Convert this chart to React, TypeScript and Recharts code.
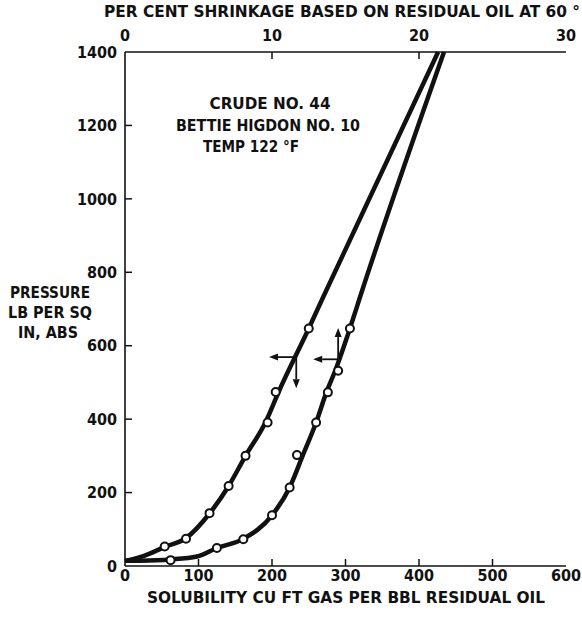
import React from 'react';
import { ComposedChart, Line, Scatter, XAxis, YAxis, ReferenceLine } from 'recharts';

// ---- axis ticks ----
const solubilityTicks = [0, 100, 200, 300, 400, 500, 600];
const shrinkageTicks = [0, 10, 20, 30];
const pressureTicks = [0, 200, 400, 600, 800, 1000, 1200, 1400];

// ---- solubility curve (bottom axis, cu ft gas per bbl residual oil) ----
const solubilityPoints = [
  { sol: 54, p: 53 },
  { sol: 83, p: 74 },
  { sol: 115, p: 144 },
  { sol: 141, p: 218 },
  { sol: 164, p: 300 },
  { sol: 194, p: 391 },
  { sol: 205, p: 474 },
  { sol: 250, p: 647 },
];
const solubilityCurve = [
  { sol: 0, p: 14 },
  { sol: 25, p: 27 },
  { sol: 54, p: 52 },
  { sol: 83, p: 76 },
  { sol: 115, p: 143 },
  { sol: 141, p: 218 },
  { sol: 164, p: 300 },
  { sol: 191, p: 391 },
  { sol: 209, p: 474 },
  { sol: 250, p: 647 },
  { sol: 270, p: 734 },
  { sol: 426, p: 1400 },
];

// ---- shrinkage curve (top axis, per cent shrinkage) ----
const shrinkagePoints = [
  { pct: 3.1, p: 16 },
  { pct: 6.25, p: 49 },
  { pct: 8.05, p: 73 },
  { pct: 10.0, p: 138 },
  { pct: 11.2, p: 214 },
  { pct: 11.7, p: 302 },
  { pct: 13.0, p: 391 },
  { pct: 13.8, p: 473 },
  { pct: 14.5, p: 532 },
  { pct: 15.3, p: 647 },
];
const shrinkageCurve = [
  { pct: 0, p: 14 },
  { pct: 1.0, p: 14.5 },
  { pct: 3.05, p: 18 },
  { pct: 4.9, p: 26 },
  { pct: 6.25, p: 49 },
  { pct: 8.05, p: 74 },
  { pct: 10.0, p: 138 },
  { pct: 11.2, p: 214 },
  { pct: 12.1, p: 302 },
  { pct: 13.0, p: 391 },
  { pct: 13.7, p: 473 },
  { pct: 14.3, p: 532 },
  { pct: 15.3, p: 647 },
  { pct: 16.0, p: 734 },
  { pct: 21.7, p: 1400 },
];

// ---- arrows telling which axis each curve reads on ----
const solubilityArrows = [
  [{ x: 229, y: 569 }, { x: 196, y: 569 }],
  [{ x: 233, y: 569 }, { x: 233, y: 484 }],
];
const shrinkageArrows = [
  [{ x: 14.5, y: 563 }, { x: 12.8, y: 563 }],
  [{ x: 14.5, y: 563 }, { x: 14.5, y: 648 }],
];

// ---- texts ----
const noteLines = ['CRUDE NO. 44', 'BETTIE HIGDON NO. 10', 'TEMP 122 °F'];
const yTitleLines = ['PRESSURE', 'LB PER SQ', 'IN, ABS'];
const topTitle = 'PER CENT SHRINKAGE BASED ON RESIDUAL OIL AT 60 °';
const bottomTitle = 'SOLUBILITY CU FT GAS PER BBL RESIDUAL OIL';

const FONT = "'DejaVu Sans Condensed', 'DejaVu Sans', sans-serif";
const INK = '#111';
const TICK_LEN = 7;

const tickText = { fontFamily: FONT, fontWeight: 700, fontSize: 16, fill: INK } as const;

const LEFT_M = 8;
const LeftTick = (props: any) => {
  const { x, y, payload } = props;
  const ax = x + LEFT_M;
  const edge = payload.value === 0 || payload.value === 1400;
  return (
    <g>
      {!edge && <line x1={ax} x2={ax + TICK_LEN} y1={y} y2={y} stroke={INK} strokeWidth={1.5} />}
      <text x={x} y={y} dy="0.36em" textAnchor="end" {...tickText}>{payload.value}</text>
    </g>
  );
};
const RIGHT_M = 0;
const RightTick = (props: any) => {
  const { x, y, payload } = props;
  const ax = x - RIGHT_M;
  const edge = payload.value === 0 || payload.value === 1400;
  if (edge) return <g />;
  return <line x1={ax} x2={ax - TICK_LEN} y1={y} y2={y} stroke={INK} strokeWidth={1.5} />;
};
const BOTTOM_M = 3;
const BottomTick = (props: any) => {
  const { x, y, payload } = props;
  const ay = y - BOTTOM_M;
  const edge = payload.value === 0 || payload.value === 600;
  return (
    <g>
      {!edge && <line x1={x} x2={x} y1={ay} y2={ay - TICK_LEN} stroke={INK} strokeWidth={1.5} />}
      <text x={x} y={y} dy="0.72em" textAnchor="middle" {...tickText}>{payload.value}</text>
    </g>
  );
};
const TOP_M = 11;
const TopTick = (props: any) => {
  const { x, y, payload } = props;
  const ay = y + TOP_M;
  const edge = payload.value === 0 || payload.value === 30;
  return (
    <g>
      {!edge && <line x1={x} x2={x} y1={ay} y2={ay + TICK_LEN} stroke={INK} strokeWidth={1.5} />}
      <text x={x} y={y} textAnchor="middle" {...tickText}>{payload.value}</text>
    </g>
  );
};

const Marker = (props: any) => {
  const { cx, cy } = props;
  if (cx == null || cy == null) return <g />;
  return <circle cx={cx} cy={cy} r={4} fill="#fff" stroke={INK} strokeWidth={2} />;
};

const Arrow = (props: any) => {
  const { x1, y1, x2, y2 } = props;
  const a = Math.atan2(y2 - y1, x2 - x1);
  const L = 9;
  const W = 3.5;
  const bx = x2 - L * Math.cos(a);
  const by = y2 - L * Math.sin(a);
  const px = -Math.sin(a) * W;
  const py = Math.cos(a) * W;
  return (
    <g>
      <line x1={x1} y1={y1} x2={bx} y2={by} stroke={INK} strokeWidth={1.8} />
      <polygon points={`${x2},${y2} ${bx + px},${by + py} ${bx - px},${by - py}`} fill={INK} />
    </g>
  );
};

const textStyle = { fontFamily: FONT, fontWeight: 700, fill: INK } as const;

export default function App() {
  return (
    <div style={{ position: 'absolute', left: 0, top: 0, width: 582, height: 618, background: '#fff' }}>
      <ComposedChart width={582} height={618} margin={{ top: 22, right: 16, bottom: 22, left: 65 }}>
        <XAxis
          xAxisId="bottom"
          orientation="bottom"
          type="number"
          dataKey="sol"
          domain={[0, 600]}
          ticks={solubilityTicks}
          height={30}
          tickSize={0}
          tickMargin={BOTTOM_M}
          tick={<BottomTick />}
          axisLine={{ stroke: INK, strokeWidth: 1.6 }}
          interval={0}
        />
        <XAxis
          xAxisId="top"
          orientation="top"
          type="number"
          dataKey="pct"
          domain={[0, 30]}
          ticks={shrinkageTicks}
          height={30}
          tickSize={0}
          tickMargin={TOP_M}
          tick={<TopTick />}
          axisLine={{ stroke: INK, strokeWidth: 1.6 }}
          interval={0}
        />
        <YAxis
          yAxisId="l"
          orientation="left"
          type="number"
          dataKey="p"
          domain={[0, 1400]}
          ticks={pressureTicks}
          width={60}
          tickSize={0}
          tickMargin={LEFT_M}
          tick={<LeftTick />}
          axisLine={{ stroke: INK, strokeWidth: 1.6 }}
          interval={0}
        />
        <YAxis
          yAxisId="r"
          orientation="right"
          type="number"
          dataKey="p"
          domain={[0, 1400]}
          ticks={pressureTicks}
          width={0}
          tickSize={0}
          tickMargin={RIGHT_M}
          tick={<RightTick />}
          axisLine={{ stroke: INK, strokeWidth: 1.6 }}
          interval={0}
        />

        <Line
          data={solubilityCurve}
          xAxisId="bottom"
          yAxisId="l"
          dataKey="p"
          type="monotone"
          stroke={INK}
          strokeWidth={4.5}
          dot={false}
          activeDot={false}
          isAnimationActive={false}
        />
        <Line
          data={shrinkageCurve}
          xAxisId="top"
          yAxisId="l"
          dataKey="p"
          type="monotone"
          stroke={INK}
          strokeWidth={4.5}
          dot={false}
          activeDot={false}
          isAnimationActive={false}
        />
        <Scatter
          data={solubilityPoints}
          xAxisId="bottom"
          yAxisId="l"
          dataKey="p"
          shape={<Marker />}
          isAnimationActive={false}
        />
        <Scatter
          data={shrinkagePoints}
          xAxisId="top"
          yAxisId="l"
          dataKey="p"
          shape={<Marker />}
          isAnimationActive={false}
        />

        {solubilityArrows.map((seg, i) => (
          <ReferenceLine key={`sa${i}`} xAxisId="bottom" yAxisId="l" segment={seg} shape={<Arrow />} ifOverflow="visible" />
        ))}
        {shrinkageArrows.map((seg, i) => (
          <ReferenceLine key={`ka${i}`} xAxisId="top" yAxisId="l" segment={seg} shape={<Arrow />} ifOverflow="visible" />
        ))}

        <text x={104} y={17} fontSize={16} textLength={476} lengthAdjust="spacingAndGlyphs" {...textStyle}>{topTitle}</text>
        <text x={147} y={603} fontSize={16} textLength={398} lengthAdjust="spacingAndGlyphs" {...textStyle}>{bottomTitle}</text>

        <text x={50} y={298} fontSize={16} textAnchor="middle" textLength={80} lengthAdjust="spacingAndGlyphs" {...textStyle}>{yTitleLines[0]}</text>
        <text x={50} y={318} fontSize={16} textAnchor="middle" textLength={84} lengthAdjust="spacingAndGlyphs" {...textStyle}>{yTitleLines[1]}</text>
        <text x={48} y={338} fontSize={16} textAnchor="middle" textLength={60} lengthAdjust="spacingAndGlyphs" {...textStyle}>{yTitleLines[2]}</text>

        <text x={270} y={109} fontSize={16} textAnchor="middle" textLength={121} lengthAdjust="spacingAndGlyphs" {...textStyle}>{noteLines[0]}</text>
        <text x={268} y={131} fontSize={16} textAnchor="middle" textLength={184} lengthAdjust="spacingAndGlyphs" {...textStyle}>{noteLines[1]}</text>
        <text x={251} y={152} fontSize={16} textAnchor="middle" textLength={96} lengthAdjust="spacingAndGlyphs" {...textStyle}>{noteLines[2]}</text>
      </ComposedChart>
    </div>
  );
}
